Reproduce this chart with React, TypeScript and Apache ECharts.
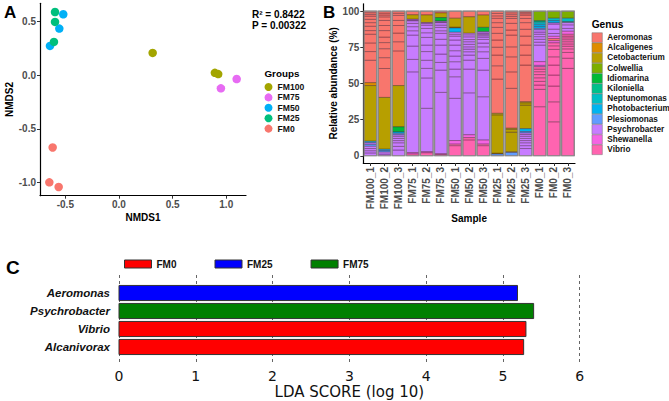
import React, { useEffect, useRef } from "react";
import * as echarts from "echarts";

const FONT = '"Liberation Sans", Arial, Helvetica, sans-serif';
const DEJAVU = '"DejaVu Sans", Verdana, sans-serif';

// ---------- Panel A : NMDS ----------
const GROUPS = ["FM100", "FM75", "FM50", "FM25", "FM0"];
const GROUP_COLORS = ["#A3A500", "#E76BF3", "#00B0F6", "#00BF7D", "#F8766D"];
const NMDS_FM100 = [[0.314, 0.206], [0.894, 0.021], [0.925, 0.009]];
const NMDS_FM75 = [[0.95, -0.123], [1.097, -0.037]];
const NMDS_FM50 = [[-0.519, 0.565], [-0.556, 0.432], [-0.643, 0.271]];
const NMDS_FM25 = [[-0.596, 0.586], [-0.596, 0.494], [-0.606, 0.308]];
const NMDS_FM0 = [[-0.618, -0.673], [-0.649, -0.997], [-0.562, -1.04]];
const NMDS_POINTS = [NMDS_FM100, NMDS_FM75, NMDS_FM50, NMDS_FM25, NMDS_FM0];
const NMDS1_TICKS = [-0.5, 0, 0.5, 1.0];
const NMDS2_TICKS = [-1.0, -0.5, 0, 0.5];
const R2_TEXT = "R\u00B2 = 0.8422";
const P_TEXT = "P = 0.00322";

// ---------- Panel B : relative abundance ----------
const GENERA = ["Aeromonas", "Alcaligenes", "Cetobacterium", "Colwellia", "Idiomarina", "Kiloniella",
  "Neptunomonas", "Photobacterium", "Plesiomonas", "Psychrobacter", "Shewanella", "Vibrio"];
const GENUS_KEYS = ["Ae", "Al", "Ce", "Co", "Id", "Ki", "Ne", "Ph", "Pl", "Ps", "Sh", "Vi"];
const GENUS_COLORS = ["#F8766D", "#DE8C00", "#B79F00", "#7CAE00", "#00BA38", "#00C08B",
  "#00BFC4", "#00B4F0", "#619CFF", "#C77CFF", "#F564E3", "#FF64B0"];
const SAMPLES = ["FM100_1", "FM100_2", "FM100_3", "FM75_1", "FM75_2", "FM75_3", "FM50_1", "FM50_2",
  "FM50_3", "FM25_1", "FM25_2", "FM25_3", "FM0_1", "FM0_2", "FM0_3"];
const ABUND_TICKS = [0, 25, 50, 75, 100];

type Seg = [string, number];
// segments listed bottom -> top, values in %
const FM100_1: Seg[] = [["Ps", 2], ["Ps", 1.5], ["Ps", 1.5], ["Ps", 1.5], ["Pl", 1.5], ["Ps", 1], ["Ph", 1], ["Ce", 38.5], ["Al", 2],
  ["Ae", 15.5], ["Ae", 6], ["Ae", 6], ["Ae", 6], ["Ae", 2.5], ["Ae", 3], ["Ae", 2.5], ["Ae", 2.3], ["Ae", 2.2], ["Ae", 1.2], ["Ae", 1.2], ["Ae", 1.1]];
const FM100_2: Seg[] = [["Ps", 1.2], ["Ps", 1.3], ["Pl", 1], ["Ph", 1], ["Ce", 35.8], ["Ae", 20], ["Ae", 7.5], ["Ae", 6.2], ["Ae", 4.2],
  ["Ae", 3.8], ["Ae", 4.5], ["Ae", 3.5], ["Ae", 3.5], ["Ae", 2.5], ["Ae", 1.3], ["Ae", 1.3], ["Ae", 1.4]];
const FM100_3: Seg[] = [["Ps", 4], ["Ps", 2.5], ["Ps", 2.5], ["Ps", 1.5], ["Ps", 1.5], ["Ps", 1.5], ["Ps", 1], ["Pl", 1], ["Ph", 1], ["Id", 3.5],
  ["Ce", 28.5], ["Ae", 24], ["Ae", 6.3], ["Ae", 6], ["Ae", 5.2], ["Ae", 3.5], ["Ae", 3.5], ["Ae", 1.5], ["Ae", 1.5]];
const FM75_1: Seg[] = [["Vi", 1.2], ["Sh", 1], ["Ps", 55.8], ["Ps", 8.6], ["Ps", 9.2], ["Ps", 7.6], ["Ps", 3], ["Ps", 2.8], ["Ps", 2.3],
  ["Ps", 1.8], ["Ps", 0.5], ["Ps", 0.5], ["Ce", 3.1], ["Ae", 2.6]];
const FM75_2: Seg[] = [["Vi", 2], ["Sh", 0.8], ["Ps", 30], ["Ps", 21], ["Ps", 6.6], ["Ps", 5.6], ["Ps", 6], ["Ps", 4.5], ["Ps", 5.3],
  ["Ps", 3.2], ["Ps", 3], ["Ps", 2.3], ["Ps", 1.2], ["Ps", 0.5], ["Ce", 5.3], ["Ae", 2.7]];
const FM75_3: Seg[] = [["Vi", 0.8], ["Sh", 0.6], ["Ps", 42.4], ["Ps", 15.4], ["Ps", 5.3], ["Ps", 5.8], ["Ps", 6.2], ["Ps", 4], ["Ps", 4.1],
  ["Ps", 1.8], ["Ps", 2.3], ["Ps", 1.6], ["Ps", 1.7], ["Ps", 0.5], ["Ps", 0.5], ["Id", 2.5], ["Ce", 3.2], ["Ae", 1.3]];
const FM50_1: Seg[] = [["Vi", 7], ["Vi", 1], ["Sh", 2.5], ["Ps", 29.2], ["Ps", 14.9], ["Ps", 5.3], ["Ps", 5.1], ["Ps", 3.9], ["Ps", 3.7],
  ["Ps", 3.9], ["Ps", 3.5], ["Ps", 2.7], ["Ps", 1.3], ["Ps", 1.3], ["Ph", 3], ["Ce", 0.6], ["Ce", 6.1], ["Ae", 5]];
const FM50_2: Seg[] = [["Vi", 11], ["Vi", 1.5], ["Sh", 2], ["Ps", 29], ["Ps", 16.4], ["Ps", 6.2], ["Ps", 3.5], ["Ps", 2.3], ["Ps", 1.8],
  ["Ps", 1.6], ["Ps", 1.7], ["Ps", 1.8], ["Ps", 1.5], ["Ps", 1.9], ["Ps", 1.4], ["Ps", 1], ["Ce", 11.4], ["Ae", 4]];
const FM50_3: Seg[] = [["Vi", 7], ["Vi", 1], ["Sh", 2.8], ["Ps", 30], ["Ps", 18.4], ["Ps", 8.1], ["Ps", 4.6], ["Ps", 3.4], ["Ps", 2.6],
  ["Ps", 2.5], ["Ps", 1.6], ["Ps", 1], ["Ps", 1], ["Ps", 0.8], ["Ps", 0.9], ["Id", 3], ["Ce", 8.5], ["Ae", 2.8]];
const FM25_1: Seg[] = [["Pl", 1.2], ["Ce", 0.6], ["Ce", 26.5], ["Ce", 1], ["Ae", 23.7], ["Ae", 9.2], ["Ae", 7.4], ["Ae", 5.4], ["Ae", 5],
  ["Ae", 4.6], ["Ae", 4.1], ["Ae", 3.3], ["Ae", 3], ["Ae", 1.7], ["Ae", 1.7], ["Ae", 1.6]];
const FM25_2: Seg[] = [["Pl", 2.3], ["Ce", 0.5], ["Ce", 13.5], ["Ce", 2], ["Ce", 0.7], ["Ae", 27.6], ["Ae", 11.4], ["Ae", 10.4], ["Ae", 6.9],
  ["Ae", 8.1], ["Ae", 3.5], ["Ae", 4.6], ["Ae", 3.4], ["Ae", 1.3], ["Ae", 1.3], ["Ae", 1.3], ["Ae", 1.2]];
const FM25_3: Seg[] = [["Ps", 5], ["Ps", 2], ["Ps", 2], ["Ps", 1.5], ["Ps", 1.5], ["Ps", 1.5], ["Ps", 1.2], ["Ps", 1], ["Pl", 1], ["Ph", 2],
  ["Ce", 16.3], ["Ce", 1.6], ["Ce", 0.7], ["Ae", 25.4], ["Ae", 6.9], ["Ae", 6.9], ["Ae", 6.2], ["Ae", 4.7], ["Ae", 4.6], ["Ae", 2.9],
  ["Ae", 2.3], ["Ae", 1], ["Ae", 1], ["Ae", 0.8]];
const FM0_1: Seg[] = [["Vi", 33.9], ["Vi", 12], ["Vi", 3], ["Vi", 2.5], ["Vi", 2.5], ["Vi", 2.2], ["Vi", 2], ["Vi", 1.8], ["Vi", 1.6],
  ["Ps", 1], ["Sh", 2.5], ["Ps", 11.5], ["Ps", 2], ["Ps", 2], ["Ps", 1.8], ["Ps", 1.7], ["Ps", 1.5], ["Ps", 1.5], ["Pl", 1], ["Ph", 1.5],
  ["Ph", 1.3], ["Ne", 1.5], ["Ki", 1], ["Co", 6.7]];
const FM0_2: Seg[] = [["Vi", 23.5], ["Vi", 13.8], ["Vi", 10.9], ["Vi", 7.6], ["Vi", 6.9], ["Vi", 5.7], ["Vi", 5.1], ["Vi", 2.5], ["Vi", 2],
  ["Sh", 1.5], ["Ae", 1.5], ["Sh", 1.5], ["Ps", 2], ["Ps", 3], ["Ps", 3.5], ["Ps", 0.8], ["Ph", 1.5], ["Ne", 1.7], ["Co", 5]];
const FM0_3: Seg[] = [["Vi", 60.4], ["Vi", 7], ["Vi", 4], ["Vi", 2.5], ["Vi", 1.8], ["Vi", 1.6], ["Vi", 1.5], ["Vi", 1.4], ["Vi", 1.3],
  ["Vi", 1.2], ["Vi", 1.2], ["Sh", 2.1], ["Ps", 2], ["Ps", 2.5], ["Ps", 1.5], ["Ki", 0.8], ["Ne", 2.2], ["Co", 5]];
const SAMPLE_SEGMENTS = [FM100_1, FM100_2, FM100_3, FM75_1, FM75_2, FM75_3, FM50_1, FM50_2, FM50_3,
  FM25_1, FM25_2, FM25_3, FM0_1, FM0_2, FM0_3];

// ---------- Panel C : LEfSe ----------
const LDA_TAXA = ["Aeromonas", "Psychrobacter", "Vibrio", "Alcanivorax"];
const LDA_SCORES = [5.19, 5.4, 5.3, 5.27];
const LDA_GROUP = ["FM25", "FM75", "FM0", "FM0"];
const LDA_LEGEND = ["FM0", "FM25", "FM75"];
const LDA_COLORS = ["#FF0000", "#0000FF", "#008000"];

const AXIS_LABEL = { color: "#4D4D4D", fontSize: 10, fontWeight: "bold" as const, fontFamily: FONT };
const AXIS_NAME = { color: "#000", fontSize: 10, fontWeight: "bold" as const, fontFamily: FONT };

function buildOption() {
  const scatterSeries = GROUPS.map((g, i) => ({
    name: g,
    type: "scatter",
    xAxisIndex: 0,
    yAxisIndex: 0,
    symbolSize: 8.5,
    itemStyle: { color: GROUP_COLORS[i], opacity: 1 },
    data: NMDS_POINTS[i],
  }));

  // stacked segments per genus
  const genusData: number[][][] = GENERA.map(() => []);
  SAMPLE_SEGMENTS.forEach((segs, s) => {
    let base = 0;
    segs.forEach(([key, v]) => {
      const gi = GENUS_KEYS.indexOf(key);
      genusData[gi].push([s, base, base + v]);
      base += v;
    });
  });
  const barSeries = GENERA.map((g, gi) => ({
    name: g,
    type: "custom",
    xAxisIndex: 1,
    yAxisIndex: 1,
    itemStyle: { color: GENUS_COLORS[gi] },
    encode: { x: 0, y: [1, 2] },
    data: genusData[gi],
    renderItem: (params: any, api: any) => {
      const i = api.value(0);
      const lo = api.coord([i, api.value(1)]);
      const hi = api.coord([i, api.value(2)]);
      const w = api.size([1, 0])[0] * 0.9;
      return {
        type: "rect",
        shape: { x: lo[0] - w / 2, y: hi[1], width: w, height: lo[1] - hi[1] },
        style: { fill: GENUS_COLORS[gi], stroke: "rgba(40,0,20,0.55)", lineWidth: 0.6 },
      };
    },
  }));
  const outlineSeries = {
    name: "outline",
    type: "custom",
    xAxisIndex: 1,
    yAxisIndex: 1,
    z: 5,
    silent: true,
    encode: { x: 0, y: [1, 2] },
    data: SAMPLES.map((_, i) => [i, 0, 100]),
    renderItem: (params: any, api: any) => {
      const i = api.value(0);
      const lo = api.coord([i, api.value(1)]);
      const hi = api.coord([i, api.value(2)]);
      const w = api.size([1, 0])[0] * 0.9;
      return {
        type: "rect",
        shape: { x: lo[0] - w / 2, y: hi[1], width: w, height: lo[1] - hi[1] },
        style: { fill: "none", stroke: "#8a8a8a", lineWidth: 1.2 },
      };
    },
  };

  const ldaSeries = LDA_LEGEND.map((g, k) => ({
    name: g,
    type: "custom",
    xAxisIndex: 2,
    yAxisIndex: 2,
    itemStyle: { color: LDA_COLORS[k] },
    encode: { x: 0, y: 1 },
    data: LDA_TAXA.map((t, idx) => (LDA_GROUP[idx] === g ? [LDA_SCORES[idx], idx] : null)).filter((d) => d),
    renderItem: (params: any, api: any) => {
      const v = api.value(0);
      const idx = api.value(1);
      const a = api.coord([0, idx]);
      const b = api.coord([v, idx]);
      const h = api.size([0, 1])[1] * 0.84;
      return {
        type: "rect",
        shape: { x: a[0], y: a[1] - h / 2, width: b[0] - a[0], height: h },
        style: { fill: LDA_COLORS[k], stroke: "#333", lineWidth: 1 },
      };
    },
  }));

  return {
    animation: false,
    backgroundColor: "#fff",
    textStyle: { fontFamily: FONT },
    grid: [
      { left: 40, top: 3.3, width: 206, height: 192.4 },
      { left: 363.3, top: 3.8, width: 211.7, height: 159.2 },
      { left: 119, top: 275, width: 460.7, height: 90 },
    ],
    xAxis: [
      {
        gridIndex: 0, type: "value", min: -0.736, max: 1.184,
        axisLine: { show: true, onZero: false, lineStyle: { color: "#000", width: 1.2 } },
        axisTick: { show: true, length: 3, customValues: NMDS1_TICKS, lineStyle: { color: "#333" } },
        axisLabel: { ...AXIS_LABEL, margin: 3.5, customValues: NMDS1_TICKS, formatter: (v: number) => v.toFixed(1) },
        splitLine: { show: false },
        name: "NMDS1", nameLocation: "middle", nameGap: 16.5, nameTextStyle: AXIS_NAME,
      },
      {
        gridIndex: 1, type: "category", data: SAMPLES,
        axisLine: { show: true, onZero: false, lineStyle: { color: "#000", width: 1.2 } },
        axisTick: { show: true, alignWithLabel: true, length: 3, lineStyle: { color: "#333" } },
        axisLabel: { ...AXIS_LABEL, rotate: 90, interval: 0, margin: 4 },
        name: "Sample", nameLocation: "middle", nameGap: 50, nameTextStyle: AXIS_NAME,
      },
      {
        gridIndex: 2, type: "value", min: 0, max: 6, interval: 1,
        axisLine: { show: false }, axisTick: { show: false },
        splitLine: { show: true, lineStyle: { color: "#666", type: [3, 3], width: 1 } },
        axisLabel: { color: "#111", fontSize: 14, fontFamily: DEJAVU, margin: 4 },
        name: "LDA SCORE (log 10)", nameLocation: "middle", nameGap: 19,
        nameTextStyle: { color: "#111", fontSize: 15, fontFamily: DEJAVU },
      },
    ],
    yAxis: [
      {
        gridIndex: 0, type: "value", min: -1.121, max: 0.667,
        axisLine: { show: true, onZero: false, lineStyle: { color: "#000", width: 1.2 } },
        axisTick: { show: true, length: 3, customValues: NMDS2_TICKS, lineStyle: { color: "#333" } },
        axisLabel: { ...AXIS_LABEL, margin: 4, customValues: NMDS2_TICKS, formatter: (v: number) => v.toFixed(1) },
        splitLine: { show: false },
        name: "NMDS2", nameLocation: "middle", nameGap: 22, nameTextStyle: AXIS_NAME,
      },
      {
        gridIndex: 1, type: "value", min: -5, max: 105,
        axisLine: { show: true, onZero: false, lineStyle: { color: "#000", width: 1.2 } },
        axisTick: { show: true, length: 3, customValues: ABUND_TICKS, lineStyle: { color: "#333" } },
        axisLabel: { ...AXIS_LABEL, margin: 4, customValues: ABUND_TICKS },
        splitLine: { show: false },
        name: "Relative abundance (%)", nameLocation: "middle", nameGap: 25, nameTextStyle: AXIS_NAME,
      },
      {
        gridIndex: 2, type: "value", inverse: true, min: -1, max: 4, interval: 1,
        axisLine: { show: false }, axisTick: { show: false }, splitLine: { show: false },
        axisLabel: {
          color: "#111", fontSize: 11.5, fontWeight: "bold", fontStyle: "italic", fontFamily: FONT, margin: 9,
          formatter: (v: number) => LDA_TAXA[v] ?? "",
        },
      },
    ],
    legend: [
      {
        orient: "vertical", left: 264.5, top: 82.5, padding: 0, itemWidth: 8, itemHeight: 8, itemGap: 1.4,
        icon: "circle", selectedMode: false,
        textStyle: { fontSize: 8.6, fontWeight: "bold", fontFamily: FONT, color: "#111" },
        data: GROUPS.map((g, i) => ({ name: g, itemStyle: { color: GROUP_COLORS[i] } })),
      },
      {
        orient: "vertical", left: 591.7, top: 32.5, padding: 0, itemWidth: 10.4, itemHeight: 9.7, itemGap: 0,
        icon: "rect", selectedMode: false,
        textStyle: { fontSize: 8.2, fontWeight: "bold", fontFamily: FONT, color: "#111" },
        data: GENERA.map((g, i) => ({ name: g, itemStyle: { color: GENUS_COLORS[i], borderColor: "#777", borderWidth: 0.5 } })),
      },
      {
        orient: "horizontal", left: 124, top: 259, padding: 0, itemWidth: 27, itemHeight: 8, itemGap: 38,
        icon: "rect", selectedMode: false,
        textStyle: { fontSize: 10, fontWeight: "bold", fontFamily: FONT, color: "#111" },
        data: LDA_LEGEND.map((g, i) => ({ name: g, itemStyle: { color: LDA_COLORS[i], borderColor: "#333", borderWidth: 1 } })),
      },
    ],
    graphic: [
      { type: "text", x: 4, y: 12, style: { text: "A", font: `bold 17px ${FONT}`, fill: "#000", textVerticalAlign: "middle" } },
      { type: "text", x: 323, y: 12, style: { text: "B", font: `bold 17px ${FONT}`, fill: "#000", textVerticalAlign: "middle" } },
      { type: "text", x: 6, y: 267, style: { text: "C", font: `bold 19px ${FONT}`, fill: "#000", textVerticalAlign: "middle" } },
      { type: "text", x: 252, y: 14, style: { text: R2_TEXT, font: `bold 10px ${FONT}`, fill: "#000", textVerticalAlign: "middle" } },
      { type: "text", x: 252, y: 25.7, style: { text: P_TEXT, font: `bold 10px ${FONT}`, fill: "#000", textVerticalAlign: "middle" } },
      { type: "text", x: 264.5, y: 73, style: { text: "Groups", font: `bold 9.8px ${FONT}`, fill: "#000", textVerticalAlign: "middle" } },
      { type: "text", x: 591.7, y: 24.3, style: { text: "Genus", font: `bold 10.2px ${FONT}`, fill: "#000", textVerticalAlign: "middle" } },
    ],
    series: [...scatterSeries, ...barSeries, outlineSeries, ...ldaSeries],
  };
}

export default function App() {
  const ref = useRef<HTMLDivElement>(null);
  useEffect(() => {
    document.body.style.margin = "0";
    const chart = echarts.init(ref.current!, null, { renderer: "svg" });
    chart.setOption(buildOption() as any);
    return () => chart.dispose();
  }, []);
  return <div ref={ref} style={{ position: "absolute", left: 0, top: 0, width: 669, height: 401 }} />;
}
